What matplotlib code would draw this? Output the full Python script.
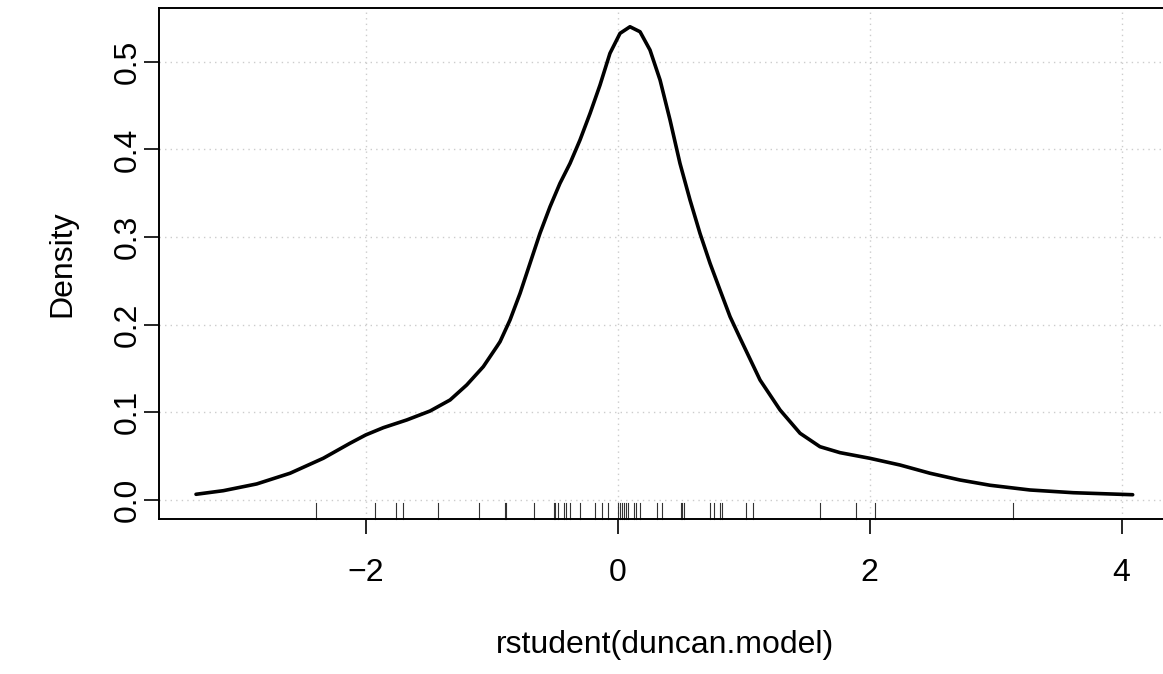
import numpy as np
import matplotlib.pyplot as plt
import matplotlib.transforms as mtransforms

plt.rcParams['font.family'] = ['Liberation Sans', 'DejaVu Sans']

# rug: studentized residuals
rug_x = [-2.398, -1.932, -1.760, -1.704, -1.431, -1.103, -0.901, -0.886,
         -0.665, -0.512, -0.498, -0.477, -0.427, -0.413, -0.379, -0.300,
         -0.186, -0.127, -0.083, -0.003, 0.013, 0.032, 0.048, 0.064, 0.079,
         0.130, 0.145, 0.172, 0.310, 0.350, 0.501, 0.511, 0.527, 0.734,
         0.763, 0.813, 0.827, 1.017, 1.070, 1.608, 1.892, 2.045, 3.140]

# density curve
dens_x = [-3.352, -3.135, -2.870, -2.605, -2.341, -2.129, -2.004, -1.864,
          -1.678, -1.493, -1.334, -1.202, -1.070, -0.963, -0.937, -0.858,
          -0.778, -0.699, -0.620, -0.540, -0.461, -0.381, -0.302, -0.222,
          -0.143, -0.064, 0.016, 0.095, 0.175, 0.254, 0.334, 0.413, 0.492,
          0.572, 0.651, 0.731, 0.810, 0.890, 0.969, 1.128, 1.287, 1.446,
          1.604, 1.763, 1.999, 2.240, 2.478, 2.716, 2.955, 3.272, 3.616, 4.088]
dens_y = [0.0065, 0.0106, 0.0183, 0.0305, 0.0476, 0.0647, 0.0742, 0.0825,
          0.0913, 0.1015, 0.1141, 0.1312, 0.1521, 0.1749, 0.1806, 0.2053,
          0.2358, 0.2700, 0.3042, 0.3346, 0.3613, 0.3841, 0.4107, 0.4411,
          0.4734, 0.5096, 0.5324, 0.5399, 0.5342, 0.5134, 0.4791, 0.4336,
          0.3841, 0.3422, 0.3042, 0.2700, 0.2396, 0.2091, 0.1848, 0.1369,
          0.1027, 0.0761, 0.0608, 0.0540, 0.0476, 0.0399, 0.0305, 0.0228,
          0.0168, 0.0114, 0.0083, 0.0060]

x_ticks = [-2, 0, 2, 4]
y_ticks = [0.0, 0.1, 0.2, 0.3, 0.4, 0.5]
y_ticklabels = ['0.0', '0.1', '0.2', '0.3', '0.4', '0.5']

W, H = 1163, 674
fig = plt.figure(figsize=(W / 100, H / 100), dpi=100)
# box runs past the right edge of the picture, like the original
ax = fig.add_axes([159 / W, 1 - 519 / H, (1170.7 - 159) / W, 511 / H])

ax.plot(dens_x, dens_y, color='black', lw=2.6, solid_joinstyle='round',
        solid_capstyle='round', zorder=3)

# rug
trans = mtransforms.blended_transform_factory(ax.transData, ax.transAxes)
for v in rug_x:
    ax.plot([v, v], [0, 0.031], color='#333333', lw=0.8, transform=trans,
            clip_on=False, zorder=2)

ax.set_xlim(-3.646, 4.39)
ax.set_ylim(-0.0217, 0.5613)
ax.set_xticks(x_ticks)
ax.set_yticks(y_ticks)
ax.set_yticklabels(y_ticklabels)

ax.grid(True, color='#cccccc', linestyle=(0, (1, 3)), lw=1.0)
ax.set_axisbelow(True)

for s in ax.spines.values():
    s.set_linewidth(1.4)
    s.set_color('black')

ax.tick_params(axis='both', direction='out', length=11, width=1.2,
               labelsize=23, color='black')
ax.tick_params(axis='x', pad=17)
ax.tick_params(axis='y', pad=1)
for lab in ax.get_yticklabels():
    lab.set_rotation(90)
    lab.set_va('center')

ax.set_xlabel('rstudent(duncan.model)', fontsize=23, va='center')
ax.xaxis.set_label_coords(0.5, -(645 - 519) / 511)
ax.set_ylabel('Density', fontsize=23, va='center')
ax.yaxis.set_label_coords((62 - 159) / 1011.7, 0.5)

fig.savefig('out.png', dpi=100)
